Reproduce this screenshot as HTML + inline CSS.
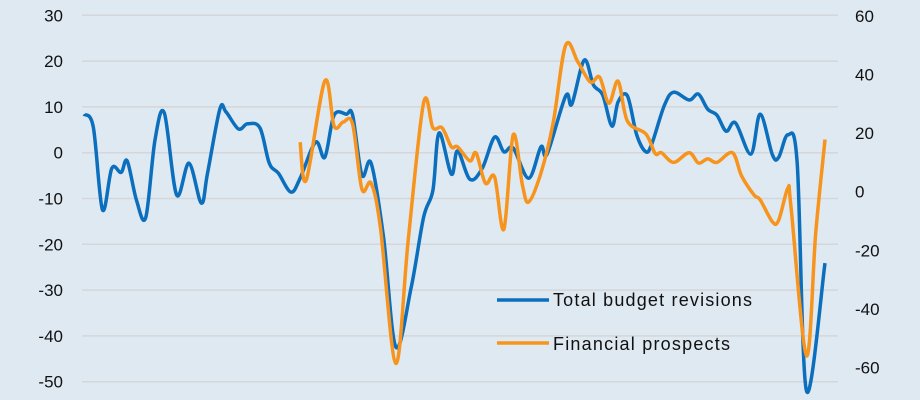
<!DOCTYPE html>
<html><head><meta charset="utf-8"><style>
html,body{margin:0;padding:0;background:#dfe9f2;}
svg{display:block;font-family:"Liberation Sans",Arial,sans-serif;}
</style></head><body>
<svg id="chart" width="920" height="400" viewBox="0 0 920 400">
<rect x="0" y="0" width="920" height="400" fill="#dfe9f2"/>
<g id="grid"></g><g id="axes"></g><g id="series"></g>
<g>
<line x1="497" y1="300" x2="549" y2="300" stroke="#0b6fbd" stroke-width="3.5"/>
<text x="553" y="306" font-size="18" textLength="199" lengthAdjust="spacing" fill="#111">Total budget revisions</text>
<line x1="497" y1="343" x2="549" y2="343" stroke="#f7941d" stroke-width="3.5"/>
<text x="553" y="350" font-size="18" textLength="177" lengthAdjust="spacing" fill="#111">Financial prospects</text>
</g>
</svg>
<script>
const leftTicks=[30,20,10,0,-10,-20,-30,-40,-50];
const rightTicks=[60,40,20,0,-20,-40,-60];
const budgetMonths=[0,3,6,9,12,14,17,20,23,26,30,34,38,40,44,46,50,53,57,60,63,67,70,75,78,81,85,87,90,93,97,101,106,110,113,115,119,121,125,129,133,136,139,144,148,150,156,158,162,165,168,171,173,176,179,182,184,188,191,196,199,202,205,208,211,216,219,223,225,228,231,234,240];
const budgetValues=[8.4,5.6,-12.5,-3.4,-4.3,-1.8,-10.4,-14.1,2.8,8.7,-9.2,-2.3,-11.0,-4.5,9.5,8.9,5.2,6.3,5.4,-2.3,-4.5,-8.6,-5.6,2.3,-1.0,8.2,8.4,8.2,-4.9,-2.3,-18.4,-42.4,-29.3,-14.1,-8.2,4.3,-4.7,0.4,-5.8,-3.4,3.4,0.2,1.0,-5.6,1.3,-0.3,12.4,10.6,20.2,14.8,12.6,5.8,11.1,12.4,3.9,0.2,2.1,10.4,13.2,11.5,12.8,9.5,8.2,4.7,6.5,-0.3,8.4,-0.5,-1.0,3.9,-2.3,-52.0,-24.1];
const finMonths=[70,72,78,81,84,87,90,93,96,101,105,110,113,116,119,121,125,127,130,133,136,139,142,144,148,152,156,160,164,167,170,173,176,182,185,187,191,196,199,202,205,210,213,217,219,223,225,228,229,234,237,240];
const finValues=[16.9,4.0,37.8,22.4,23.8,23.1,0.9,2.9,-12.2,-58.6,-16.6,30.3,21.8,21.8,15.3,15.3,10.5,13.2,2.9,5.0,-12.8,19.4,2.3,-3.5,6.4,23.8,50.0,44.2,37.4,39.1,30.2,37.7,24.1,19.7,13.0,13.3,10.0,13.3,9.8,11.2,10.0,13.3,5.4,-1.1,-2.8,-10.3,-9.7,1.3,-5.2,-56.0,-14.1,17.8];

const X0=84,X1=825,M0=0,M1=240;
const xS=m=>X0+(m-M0)/(M1-M0)*(X1-X0);
const yL=v=>152.7-v*4.58;
const yR=v=>191.7-v*2.93;
const NS='http://www.w3.org/2000/svg';
function mk(tag,attrs,parent){const e=document.createElementNS(NS,tag);for(const k in attrs)e.setAttribute(k,attrs[k]);parent.appendChild(e);return e;}
const grid=document.getElementById('grid'),axes=document.getElementById('axes'),series=document.getElementById('series');
leftTicks.forEach(t=>{
  const l=mk('line',{x1:82,x2:838,y1:yL(t),y2:yL(t),stroke:'#d4d6d9','stroke-width':1.5},grid);
  
  
  const tx=mk('text',{x:63,y:yL(t)+6,'text-anchor':'end','font-size':17,fill:'#111'},axes);
  tx.textContent=t;
  
  
});
rightTicks.forEach(t=>{
  const tx=mk('text',{x:855,y:yR(t)+6,'text-anchor':'start','font-size':17,fill:'#111'},axes);
  tx.textContent=t;
  
  
});
function smooth(pts){
  let d='M'+pts[0][0].toFixed(1)+','+pts[0][1].toFixed(1);
  for(let i=0;i<pts.length-1;i++){
    const p0=pts[Math.max(0,i-1)],p1=pts[i],p2=pts[i+1],p3=pts[Math.min(pts.length-1,i+2)];
    const c1=[p1[0]+(p2[0]-p0[0])/6,p1[1]+(p2[1]-p0[1])/6];
    const c2=[p2[0]-(p3[0]-p1[0])/6,p2[1]-(p3[1]-p1[1])/6];
    d+=' C'+c1.map(v=>v.toFixed(1)).join(',')+' '+c2.map(v=>v.toFixed(1)).join(',')+' '+p2[0].toFixed(1)+','+p2[1].toFixed(1);
  }
  return d;
}
const bp=mk('path',{d:smooth(budgetMonths.map((m,i)=>[xS(m),yL(budgetValues[i])])),fill:'none',stroke:'#0b6fbd','stroke-width':3.5,'stroke-linejoin':'round'},series);


const fp=mk('path',{d:smooth(finMonths.map((m,i)=>[xS(m),yR(finValues[i])])),fill:'none',stroke:'#f7941d','stroke-width':3.5,'stroke-linejoin':'round'},series);


</script>
</body></html>
